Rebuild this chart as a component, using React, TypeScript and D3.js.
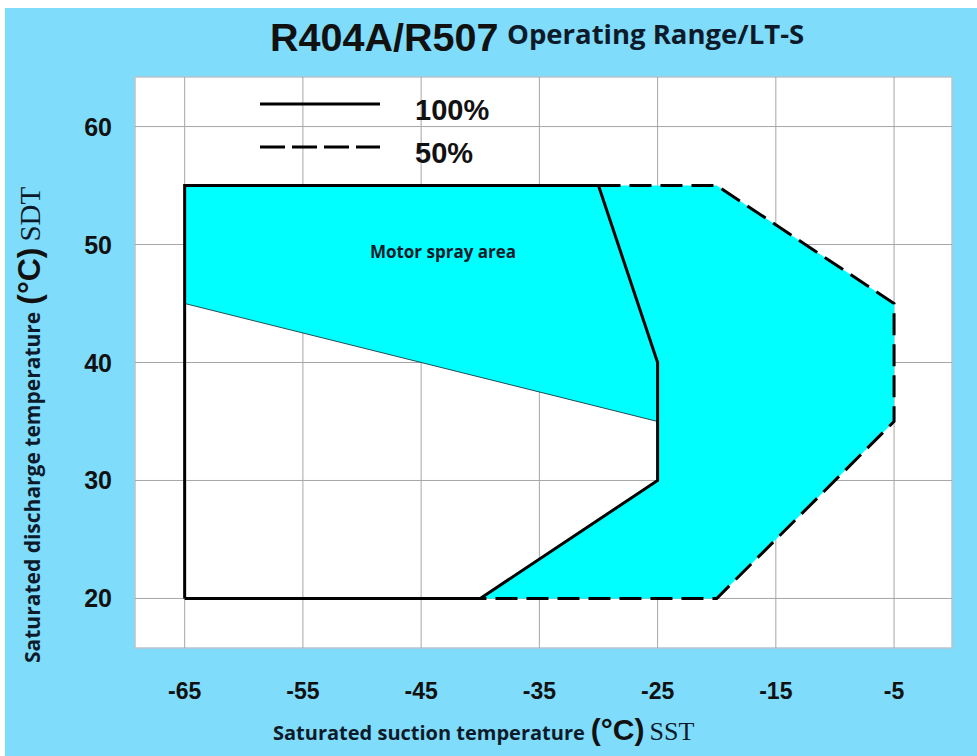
import * as d3 from "d3";

// chart values
const sstTicks = [-65, -55, -45, -35, -25, -15, -5];
const sdtTicks = [20, 30, 40, 50, 60];
const sstExtent = [-69.2, -0.1];
const sdtExtent = [15.8, 64.2];

// 100% load envelope (solid)
const fullLoadSst = [-65, -65, -30, -25, -25, -40, -65];
const fullLoadSdt = [20, 55, 55, 40, 30, 20, 20];
// 50% load envelope (dashed)
const halfLoadSst = [-30, -20, -5, -5, -20, -40];
const halfLoadSdt = [55, 55, 45, 35, 20, 20];
// motor spray lower boundary
const sprayEdgeSst = [-65, -25];
const sprayEdgeSdt = [45, 35];
// cyan filled region (spray area + 50% extension)
const fillSst = [-65, -20, -5, -5, -20, -40, -25, -25, -65];
const fillSdt = [55, 55, 45, 35, 20, 20, 30, 35, 45];

const legendItems = ["100%", "50%"];

const W = 977;
const H = 756;
const BG = "#80dcfb";

const zip = (a: number[], b: number[]) => a.map((v, i) => [v, b[i]] as [number, number]);

export default function App() {
  const x = d3.scaleLinear().domain(sstExtent).range([135, 952]);
  const y = d3.scaleLinear().domain(sdtExtent).range([648, 77]);
  const line = d3.line<[number, number]>().x((d) => x(d[0])).y((d) => y(d[1]));

  const fillPath = line(zip(fillSst, fillSdt)) + "Z";
  const dash = "22 9";

  return (
    <svg
      width={W}
      height={H}
      style={{ position: "absolute", left: 0, top: 0, background: "#fff" }}
      fontFamily="'Liberation Sans', Arial, sans-serif"
    >
      <rect x={5} y={8} width={W - 5} height={H - 8} fill={BG} />
      <rect
        x={x(sstExtent[0])}
        y={y(sdtExtent[1])}
        width={x(sstExtent[1]) - x(sstExtent[0])}
        height={y(sdtExtent[0]) - y(sdtExtent[1])}
        fill="#fff"
        stroke="#b8c4cc"
        strokeWidth={1.5}
      />
      {/* grid */}
      {sstTicks.map((t) => (
        <line key={"gx" + t} x1={x(t)} x2={x(t)} y1={y(sdtExtent[0])} y2={y(sdtExtent[1])} stroke="#a6a6a6" strokeWidth={1} />
      ))}
      {sdtTicks.map((t) => (
        <line key={"gy" + t} x1={x(sstExtent[0])} x2={x(sstExtent[1])} y1={y(t)} y2={y(t)} stroke="#a6a6a6" strokeWidth={1} />
      ))}

      {/* areas and envelopes */}
      <path d={fillPath} fill="#00ffff" />
      <path d={line(zip(sprayEdgeSst, sprayEdgeSdt)) || ""} fill="none" stroke="#1a3a40" strokeWidth={0.9} />
      <path d={line(zip(halfLoadSst, halfLoadSdt)) || ""} fill="none" stroke="#000" strokeWidth={3} strokeDasharray={dash} />
      <path d={line(zip(fullLoadSst, fullLoadSdt)) || ""} fill="none" stroke="#000" strokeWidth={3} strokeLinejoin="miter" />

      <text x={443} y={258} textAnchor="middle" fontFamily="'Open Sans', sans-serif" fontWeight={700} fontSize={17} fill="#0c1a2a">
        Motor spray area
      </text>

      {/* legend */}
      {legendItems.map((lab, i) => (
        <g key={lab} transform={`translate(0, ${104 + i * 43})`}>
          <line x1={260} x2={380} y1={0} y2={0} stroke="#000" strokeWidth={3} strokeDasharray={i === 0 ? undefined : "25 7"} />
          <text x={415} y={16} fontWeight={700} fontSize={29} fill="#111">
            {lab}
          </text>
        </g>
      ))}

      {/* tick labels */}
      {sstTicks.map((t) => (
        <text key={"tx" + t} x={x(t)} y={699} textAnchor="middle" fontWeight={700} fontSize={23} fill="#111">
          {t}
        </text>
      ))}
      {sdtTicks.map((t) => (
        <text key={"ty" + t} x={112} y={y(t) + 9} textAnchor="end" fontWeight={700} fontSize={25} fill="#111">
          {t}
        </text>
      ))}

      {/* title */}
      <text x={270} y={51} fontWeight={700} fontSize={39.5} fill="#111">
        R404A/R507
      </text>
      <text x={507} y={44} fontFamily="'Open Sans', sans-serif" fontWeight={700} fontSize={27.5} fill="#0c1a2a">
        Operating Range/LT-S
      </text>

      {/* x axis title */}
      <text x={273} y={740} fill="#0c1a2a">
        <tspan fontFamily="'Open Sans', sans-serif" fontWeight={700} fontSize={20}>
          Saturated suction temperature
        </tspan>
        <tspan dx={6} fontWeight={700} fontSize={30} fill="#111">
          (°C)
        </tspan>
        <tspan dx={5} fontFamily="'Liberation Serif', 'Times New Roman', serif" fontSize={26}>
          SST
        </tspan>
      </text>

      {/* y axis title */}
      <text transform="translate(40, 663) rotate(-90)" fill="#0c1a2a">
        <tspan fontFamily="'Open Sans', sans-serif" fontWeight={700} fontSize={21}>
          Saturated discharge temperature
        </tspan>
        <tspan dx={7} fontWeight={700} fontSize={32} fill="#111">
          (°C)
        </tspan>
        <tspan dx={6} fontFamily="'Liberation Serif', 'Times New Roman', serif" fontSize={29}>
          SDT
        </tspan>
      </text>
    </svg>
  );
}
